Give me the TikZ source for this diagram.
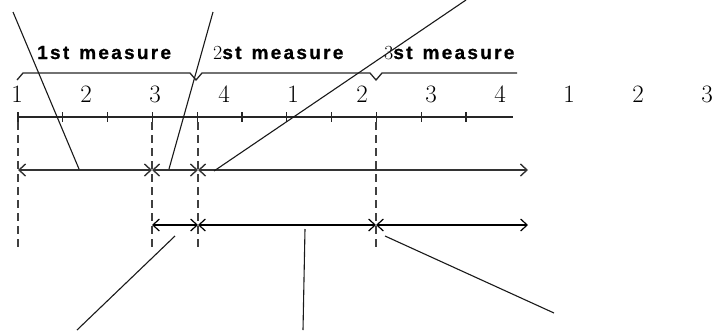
\documentclass[tikz,border=0pt]{standalone}
\usepackage{fontspec}
\usetikzlibrary{arrows.meta}
\newfontfamily\labfont{Liberation Sans}[LetterSpace=12,BoldFeatures={FakeBold=0.8}]
\begin{document}
\begin{tikzpicture}[x=1pt,y=-1pt,
  beat/.style={anchor=base,inner sep=0pt,font=\fontsize{25}{25}\selectfont},
  mlabel/.style={anchor=base west,inner sep=0pt},
  line/.style={draw=black!85,line width=1.3pt},
  arr/.style={draw=black!80,line width=1.4pt,{Straight Barb[length=6.5pt,width=12pt]}-{Straight Barb[length=6.5pt,width=12pt]}},
  guide/.style={draw=black!75,line width=1.3pt,dash pattern=on 8pt off 5pt},
  pointer/.style={draw=black!90,line width=1.1pt}]
\useasboundingbox (0,0) rectangle (715,330);
% beat numbers
\foreach \t [count=\i from 0] in {1,2,3,4,1,2,3,4,1,2,3}
  \node[beat] (n\i) at (17+69*\i,102.5) {\t};
% measure labels
\newcommand{\msr}[1]{{\fontsize{20}{20}\selectfont #1}}
\newcommand{\msrtext}[1]{{\labfont\bfseries\fontsize{19}{19}\selectfont #1}}
\node[mlabel] (m1) at (37,59) {\msrtext{1st\hspace{10pt}measure}};
\node[mlabel] (m2) at (213,59) {\msr{2}\msrtext{st\hspace{10pt}measure}};
\node[mlabel] (m3) at (384,59) {\msr{3}\msrtext{st\hspace{10pt}measure}};
% brace
\draw[line] (17,80) -- (23,73) -- (190,73) -- (196,80) -- (202,73) -- (370,73) -- (376,80) -- (382,73) -- (517,73);
% timeline
\coordinate (tl0) at (18,117);
\coordinate (tl1) at (513,117);
\draw[line] (tl0) -- (tl1);
\foreach \k in {0,...,10}
  \draw[line] (18+44.8*\k,112) -- (18+44.8*\k,122);
% guides
\foreach \x/\n in {18/g0,152/g1,198/g2,376/g3} {
  \coordinate (\n t) at (\x,122);
  \coordinate (\n b) at (\x,250);
  \draw[guide] (\n t) -- (\n b);
}
% row 1
\coordinate (a0) at (18,170);
\coordinate (a1) at (152,170);
\coordinate (a2) at (198,170);
\coordinate (a3) at (528,170);
\draw[arr] (a0) -- (a1);
\draw[arr] (a1) -- (a2);
\draw[arr] (a2) -- (a3);
% row 2
\coordinate (b0) at (152,225);
\coordinate (b1) at (198,225);
\coordinate (b2) at (376,225);
\coordinate (b3) at (528,225);
\draw[arr,line width=1.2pt,draw=black] (b0) -- (b1);
\draw[arr,line width=1.2pt,draw=black] (b1) -- (b2);
\draw[arr,line width=1.2pt,draw=black] (b2) -- (b3);
% pointers
\coordinate (p1s) at (13,12);   \coordinate (p1e) at (79,169);
\coordinate (p2s) at (213,12);  \coordinate (p2e) at (169,169);
\coordinate (p3s) at (466,0);   \coordinate (p3e) at (214,171);
\coordinate (p4s) at (175,236); \coordinate (p4e) at (77,330);
\coordinate (p5s) at (305,229); \coordinate (p5e) at (303,330);
\coordinate (p6s) at (385,236); \coordinate (p6e) at (554,313);
\foreach \p in {1,...,6}
  \draw[pointer] (p\p s) -- (p\p e);
\end{tikzpicture}
\end{document}
